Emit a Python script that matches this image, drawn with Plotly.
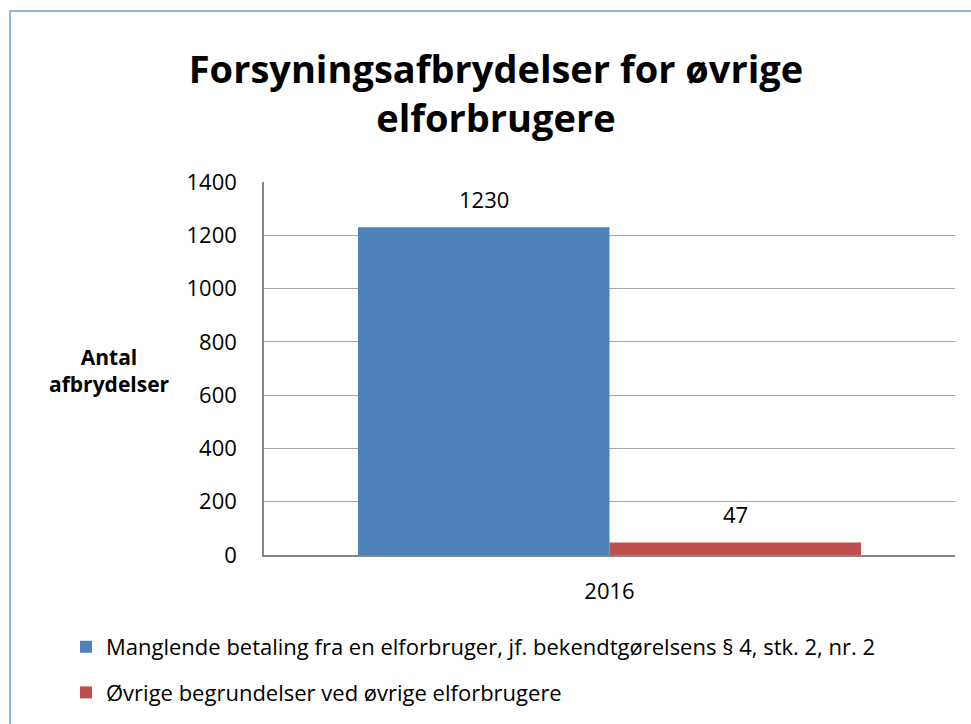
import plotly.graph_objects as go

categories = ["2016"]
series_names = [
    "Manglende betaling fra en elforbruger, jf. bekendtgørelsens § 4, stk. 2, nr. 2",
    "Øvrige begrundelser ved øvrige elforbrugere",
]
values_1 = [1230]
values_2 = [47]
colors = ["#4f81bd", "#c0504d"]
y_ticks = [0, 200, 400, 600, 800, 1000, 1200, 1400]

FONT = "'Open Sans', 'Noto Sans', sans-serif"

W, H = 971, 724
L, R, T, B = 264, 16, 182, 169
pw, ph = W - L - R, H - T - B
BARGAP = 0.272
bar_px = pw * (1 - BARGAP) / 2

fig = go.Figure()
annotations = []
for i, (name, vals, col) in enumerate(zip(series_names, [values_1, values_2], colors)):
    fig.add_trace(go.Bar(
        x=categories, y=vals, name=name, marker_color=col, marker_line_width=0,
        legendgroup=name, hoverinfo="skip",
    ))
    for j, v in enumerate(vals):
        annotations.append(dict(
            x=j, y=v, xref="x", yref="y", text=str(v), showarrow=False,
            xanchor="center", yanchor="middle",
            xshift=(i - 0.5) * bar_px, yshift=28,
            font=dict(size=22, family=FONT, color="#000000"),
        ))

annotations.append(dict(
    text="<b>Antal<br>afbrydelser</b>", xref="paper", yref="paper",
    x=(109 - L) / pw, y=(H - 370 - B) / ph, xanchor="center", yanchor="middle",
    showarrow=False, font=dict(size=21, family=FONT, color="#000000"),
))

fig.update_layout(
    width=W, height=H,
    margin=dict(l=L, r=R, t=T, b=B, autoexpand=False),
    paper_bgcolor="white", plot_bgcolor="white",
    barmode="group", bargap=BARGAP, bargroupgap=0,
    font=dict(family=FONT, color="#000000"),
    title=dict(
        text="<b>Forsyningsafbrydelser for øvrige<br>elforbrugere</b>",
        x=496 / W, xanchor="center", y=1 - 83 / H, yanchor="middle",
        font=dict(size=38, family=FONT, color="#000000"),
    ),
    showlegend=True,
    legend=dict(
        orientation="v", x=(66 - L) / pw, xanchor="left",
        y=(H - 626 - B) / ph, yanchor="top",
        font=dict(size=22, family=FONT), tracegroupgap=14,
        itemwidth=30,
    ),
    xaxis=dict(
        type="category", autorange=False, range=[-0.5, len(categories) - 0.5],
        showgrid=False, showline=True, linecolor="#868686", linewidth=2,
        ticks="", tickfont=dict(size=22, family=FONT), ticklabelstandoff=16,
    ),
    yaxis=dict(
        range=[0, 1400], autorange=False, tickvals=y_ticks, showgrid=True,
        gridcolor="#a6a6a6", gridwidth=1, showline=True, linecolor="#868686",
        linewidth=1.5, ticks="", ticklen=0, tickfont=dict(size=22, family=FONT),
        zeroline=False, ticklabelstandoff=21,
    ),
    annotations=annotations,
    shapes=[dict(
        type="rect", xref="paper", yref="paper",
        x0=(10 - L) / pw, x1=(W + 20 - L) / pw,
        y0=(-20 - B) / ph, y1=(H - 11 - B) / ph,
        line=dict(color="#95b3d7", width=2), fillcolor="rgba(0,0,0,0)", layer="below",
    )],
)

fig.write_html("out.html", config={"displayModeBar": False},
               post_script="document.body.style.margin='0';")
